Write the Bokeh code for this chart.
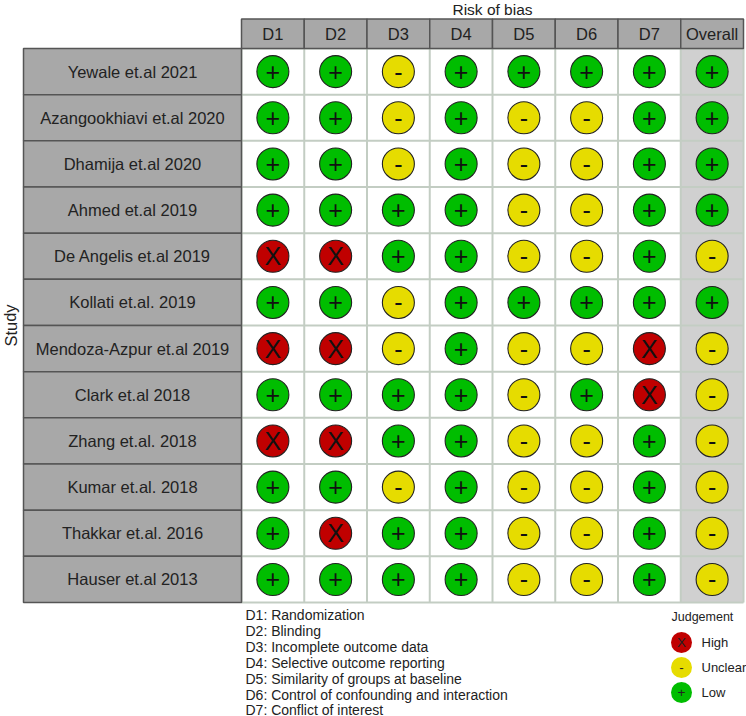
from bokeh.plotting import figure
from bokeh.models import ColumnDataSource, Range1d
from bokeh.core.properties import value
from bokeh.embed import file_html
from bokeh.resources import INLINE

domains = ["D1", "D2", "D3", "D4", "D5", "D6", "D7", "Overall"]
studies = ["Yewale et.al 2021", "Azangookhiavi et.al 2020", "Dhamija et.al 2020",
           "Ahmed et.al 2019", "De Angelis et.al 2019", "Kollati et.al. 2019",
           "Mendoza-Azpur et.al 2019", "Clark et.al 2018", "Zhang et.al. 2018",
           "Kumar et.al. 2018", "Thakkar et.al. 2016", "Hauser et.al 2013"]
judgements = ["++-+++++", "++-+--++", "++-+--++", "++++--++", "XX++--+-", "++-+++++",
              "XX-+--X-", "++++-+X-", "XX++--+-", "++-+--+-", "+X++--+-", "++++--+-"]
footnotes = ["D1: Randomization", "D2: Blinding", "D3: Incomplete outcome data",
             "D4: Selective outcome reporting", "D5: Similarity of groups at baseline",
             "D6: Control of confounding and interaction", "D7: Conflict of interest"]
legend_symbols = ["X", "-", "+"]
legend_labels = ["High", "Unclear", "Low"]
fills = {"+": "#00bd00", "-": "#e6dc00", "X": "#c00000"}

FONT = value("Liberation Sans")
W, H = 746, 716
CW, RH = 62.75, 46.17          # pixels per column / row
X0, Y0 = 241.0, 48.0           # canvas position of grid's top-left corner
x_range = Range1d(-X0 / CW - 0.5, (W - X0) / CW - 0.5)
y_range = Range1d((H - Y0) / RH - 0.5, -Y0 / RH - 0.5)
p = figure(width=W, height=H, x_range=x_range, y_range=y_range, output_backend="svg",
           toolbar_location=None, min_border=0, outline_line_color=None)
p.axis.visible = False
p.grid.visible = False
p.background_fill_color = "white"
n = len(studies)
m = len(domains)

# panel backgrounds
p.rect(x=[i for i in range(m)], y=[(n - 1) / 2] * m, width=1, height=n,
       fill_color=["white"] * (m - 1) + ["#d0d0d0"], line_color=None)
# grid lines
p.segment(x0=[i - 0.5 for i in range(m + 1)], x1=[i - 0.5 for i in range(m + 1)],
          y0=[-0.5] * (m + 1), y1=[n - 0.5] * (m + 1), line_color="#c3cdc3", line_width=2)
p.segment(x0=[-0.5] * (n + 1), x1=[m - 0.5] * (n + 1),
          y0=[i - 0.5 for i in range(n + 1)], y1=[i - 0.5 for i in range(n + 1)],
          line_color="#c3cdc3", line_width=2)

# strips
STRIP_W = 218 / CW
p.rect(x=[-0.5 - STRIP_W / 2] * n, y=list(range(n)), width=STRIP_W, height=1,
       fill_color="#a8a8a8", line_color="#555555", line_width=1.5)
HDR = 29.5 / RH
p.rect(x=list(range(m)), y=[-0.5 - HDR / 2] * m, width=1, height=HDR,
       fill_color="#a8a8a8", line_color="#555555", line_width=1.5)
p.text(x=[-0.5 - STRIP_W / 2] * n, y=list(range(n)), text=studies, text_font=FONT,
       text_font_size="16.5px", text_align="center", text_baseline="middle", text_color="#222222")
p.text(x=list(range(m)), y=[-0.5 - HDR / 2] * m, text=domains, text_font=FONT,
       text_font_size="16.5px", text_align="center", text_baseline="middle", text_color="#222222")

# judgements
xs, ys, syms = [], [], []
for r, row in enumerate(judgements):
    for c, s in enumerate(row):
        xs.append(c); ys.append(r); syms.append(s)
src = ColumnDataSource(dict(x=xs, y=ys, s=syms, f=[fills[s] for s in syms]))
p.scatter("x", "y", source=src, size=32, fill_color="f", line_color="#222222", line_width=1.1)
p.text("x", "y", text="s", source=src, text_font=FONT, text_font_size="25px",
       text_align="center", text_baseline="middle", text_color="#111111")

# titles
p.text(x=[(m - 1) / 2], y=[-0.5 - 39 / RH], text=["Risk of bias"], text_font=FONT,
       text_font_size="15.5px", text_align="center", text_baseline="middle", text_color="#222222")
p.text(x=[-0.5 - 231 / CW], y=[(n - 1) / 2], text=["Study"], text_font=FONT, angle=1.5708,
       text_font_size="16.5px", text_align="center", text_baseline="middle", text_color="#222222")

# footnotes
fx = -0.5 + 4 / CW
fy = [n - 0.5 + (12.5 + 15.9 * i) / RH for i in range(len(footnotes))]
p.text(x=[fx] * len(footnotes), y=fy, text=footnotes, text_font=FONT, text_font_size="14px",
       text_align="left", text_baseline="middle", text_color="#222222")

# legend
lx = m - 0.5 - 62 / CW
ly = [n - 0.5 + (40 + 25 * i) / RH for i in range(3)]
p.text(x=[m - 0.5 - 72 / CW], y=[n - 0.5 + 14.5 / RH], text=["Judgement"], text_font=FONT,
       text_font_size="12.5px", text_align="left", text_baseline="middle", text_color="#222222")
p.scatter(x=[lx] * 3, y=ly, size=21, fill_color=[fills[s] for s in legend_symbols], line_color=None)
p.text(x=[lx] * 3, y=ly, text=legend_symbols, text_font=FONT, text_font_size="13.5px",
       text_align="center", text_baseline="middle", text_color="#222222")
p.text(x=[lx + 20 / CW] * 3, y=ly, text=legend_labels, text_font=FONT, text_font_size="13px",
       text_align="left", text_baseline="middle", text_color="#222222")

open("out.html", "w").write(file_html(p, INLINE))
